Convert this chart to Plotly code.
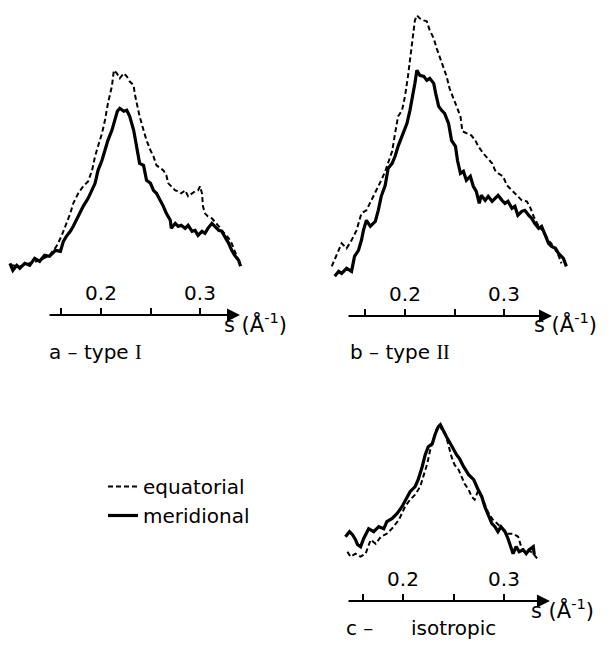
import plotly.graph_objects as go

W, H = 611, 645

# ---------------- data (s in 1/Angstrom, intensity in arbitrary units) ----------------
# panel a - type I
a_eq_s = [0.110, 0.118, 0.128, 0.138, 0.148, 0.155, 0.160, 0.165, 0.169, 0.172, 0.177, 0.182,
          0.187, 0.191, 0.194, 0.197, 0.201, 0.204, 0.207, 0.211, 0.213, 0.216, 0.219, 0.223,
          0.226, 0.229, 0.233, 0.234, 0.236, 0.239, 0.243, 0.246, 0.250, 0.253, 0.256, 0.260,
          0.263, 0.266, 0.268, 0.271, 0.275, 0.278, 0.281, 0.285, 0.288, 0.292, 0.295, 0.298,
          0.300, 0.302, 0.303, 0.305, 0.308, 0.312, 0.315, 0.319, 0.322, 0.325, 0.329, 0.332,
          0.335, 0.338]
a_eq_i = [18, 17, 20, 23, 28, 37, 47, 60, 70, 80, 90, 97,
          102, 113, 127, 137, 150, 163, 180, 197, 213, 210, 205, 210,
          207, 202, 198, 190, 180, 167, 153, 143, 133, 127, 118, 115,
          113, 108, 100, 97, 93, 92, 90, 93, 87, 90, 92, 93,
          97, 90, 77, 70, 67, 65, 62, 57, 53, 50, 45, 40,
          33, 25]
a_mer_s = [0.108, 0.111, 0.115, 0.118, 0.123, 0.128, 0.133, 0.138, 0.143, 0.148, 0.154, 0.159,
           0.162, 0.165, 0.169, 0.172, 0.177, 0.182, 0.187, 0.191, 0.194, 0.197, 0.201, 0.204,
           0.207, 0.211, 0.214, 0.2165, 0.219, 0.223, 0.226, 0.229, 0.233, 0.236, 0.239, 0.243,
           0.246, 0.250, 0.253, 0.256, 0.260, 0.263, 0.266, 0.270, 0.271, 0.275, 0.278, 0.281,
           0.285, 0.288, 0.292, 0.295, 0.298, 0.302, 0.305, 0.308, 0.312, 0.315, 0.319, 0.322,
           0.325, 0.329, 0.332, 0.335, 0.339, 0.341]
a_mer_i = [20, 13, 18, 15, 20, 18, 25, 22, 28, 27, 33, 32,
           42, 47, 52, 57, 67, 77, 85, 93, 100, 113, 123, 133,
           143, 153, 163, 172, 175, 172, 173, 167, 153, 137, 120, 118,
           103, 100, 93, 90, 83, 77, 70, 63, 55, 60, 57, 58,
           55, 58, 52, 53, 48, 52, 50, 55, 60, 57, 53, 52,
           47, 40, 33, 28, 23, 17]

# panel b - type II
b_eq_s = [0.126, 0.136, 0.141, 0.146, 0.151, 0.156, 0.161, 0.166, 0.171, 0.176, 0.180, 0.183,
          0.187, 0.190, 0.193, 0.197, 0.200, 0.203, 0.207, 0.210, 0.212, 0.215, 0.219, 0.222,
          0.225, 0.229, 0.232, 0.235, 0.239, 0.242, 0.245, 0.249, 0.252, 0.256, 0.258, 0.262,
          0.267, 0.271, 0.274, 0.279, 0.284, 0.288, 0.291, 0.294, 0.299, 0.303, 0.308, 0.313,
          0.318, 0.323, 0.326, 0.330, 0.335, 0.340, 0.345, 0.350, 0.355, 0.358]
b_eq_i = [17, 40, 35, 43, 53, 70, 73, 83, 92, 103, 112, 120,
          132, 150, 167, 173, 187, 207, 237, 263, 268, 265, 263, 262,
          253, 245, 235, 227, 217, 207, 195, 185, 177, 167, 152, 150,
          148, 143, 137, 130, 125, 120, 113, 110, 107, 98, 93, 88,
          83, 82, 77, 67, 57, 52, 43, 37, 28, 20]
b_mer_s = [0.129, 0.133, 0.136, 0.141, 0.146, 0.149, 0.153, 0.156, 0.158, 0.161, 0.165, 0.170,
           0.173, 0.176, 0.180, 0.183, 0.187, 0.190, 0.193, 0.197, 0.200, 0.202, 0.205, 0.208,
           0.210, 0.212, 0.215, 0.219, 0.222, 0.225, 0.229, 0.231, 0.234, 0.237, 0.240, 0.244,
           0.247, 0.251, 0.253, 0.256, 0.259, 0.262, 0.266, 0.269, 0.272, 0.275, 0.277, 0.281,
           0.284, 0.288, 0.291, 0.294, 0.298, 0.301, 0.304, 0.308, 0.311, 0.314, 0.318, 0.321,
           0.325, 0.328, 0.331, 0.335, 0.338, 0.341, 0.345, 0.348, 0.352, 0.355, 0.360, 0.363]
b_mer_i = [7, 12, 10, 15, 12, 27, 33, 43, 53, 63, 57, 62,
           73, 87, 98, 115, 120, 127, 137, 147, 153, 160, 173, 187,
           200, 213, 208, 207, 203, 205, 200, 190, 177, 173, 170, 160,
           143, 137, 123, 110, 112, 103, 107, 97, 92, 80, 88, 83,
           87, 82, 85, 88, 83, 80, 82, 75, 77, 68, 72, 73,
           68, 65, 60, 55, 57, 50, 40, 37, 35, 30, 25, 17]

# panel c - isotropic
c_eq_s = [0.145, 0.148, 0.153, 0.158, 0.163, 0.168, 0.173, 0.178, 0.184, 0.189, 0.196, 0.202,
          0.207, 0.212, 0.217, 0.220, 0.224, 0.227, 0.230, 0.233, 0.236, 0.238, 0.242, 0.245,
          0.248, 0.251, 0.255, 0.258, 0.261, 0.265, 0.268, 0.271, 0.274, 0.278, 0.281, 0.284,
          0.289, 0.294, 0.299, 0.304, 0.309, 0.314, 0.317, 0.320, 0.324, 0.329, 0.333]
c_eq_i = [15, 10, 13, 10, 13, 27, 23, 30, 33, 38, 47, 60,
          67, 72, 80, 90, 103, 117, 128, 137, 142, 138, 133, 120,
          110, 102, 97, 90, 83, 77, 70, 67, 75, 70, 63, 55,
          47, 42, 37, 33, 33, 30, 20, 15, 17, 13, 8]
c_mer_s = [0.143, 0.147, 0.150, 0.153, 0.155, 0.158, 0.161, 0.166, 0.171, 0.176, 0.181, 0.184,
           0.189, 0.194, 0.199, 0.204, 0.207, 0.212, 0.215, 0.219, 0.222, 0.225, 0.229, 0.232,
           0.235, 0.237, 0.240, 0.243, 0.247, 0.250, 0.253, 0.256, 0.260, 0.265, 0.270, 0.274,
           0.278, 0.281, 0.284, 0.288, 0.291, 0.294, 0.297, 0.301, 0.304, 0.307, 0.309, 0.312,
           0.315, 0.319, 0.322, 0.325, 0.329, 0.330]
c_mer_i = [30, 35, 32, 27, 22, 20, 28, 38, 35, 40, 38, 45,
           48, 53, 60, 70, 75, 80, 87, 100, 112, 120, 123, 133,
           140, 142, 135, 130, 123, 117, 112, 108, 100, 92, 87, 78,
           70, 60, 52, 43, 40, 35, 40, 35, 28, 20, 13, 20,
           15, 17, 13, 17, 20, 12]

tick_vals = [0.16, 0.2, 0.25, 0.3]
tick_text = ["", "0.2", "", "0.3"]
unit_label = "s (Å<sup>-1</sup>)"
panel_labels = ["a – type <span style=\"font-family:Liberation Serif\">I</span>",
                "b – type <span style=\"font-family:Liberation Serif\">II</span>",
                "c –"]
legend_names = ["equatorial", "meridional"]

# ---------------- layout helpers (pixel geometry) ----------------
FONT = "DejaVu Sans"
FS = 20


def xdom(x0, x1):
    return [x0 / W, x1 / W]


def ydom(top, bottom):
    return [1 - bottom / H, 1 - top / H]


def ypap(y):
    return 1 - y / H


panels = [
    dict(xr=[0.10, 0.35], xpx=(2, 249.5), yr=[0, 283], ypx=(0.33, 283.33), axis_y=315,
         arrow=(0.1465, 0.3404), unit=(222, 323), label=(47, 352),
         data=(a_eq_s, a_eq_i, a_mer_s, a_mer_i)),
    dict(xr=[0.12, 0.37], xpx=(325.8, 573.3), yr=[0, 283], ypx=(0.33, 283.33), axis_y=316,
         arrow=(0.1414, 0.3485), unit=(532, 323), label=(348, 352),
         data=(b_eq_s, b_eq_i, b_mer_s, b_mer_i)),
    dict(xr=[0.13, 0.35], xpx=(332.3, 554.5), yr=[0, 150], ypx=(416.7, 566.7), axis_y=601,
         arrow=(0.1446, 0.3455), unit=(529, 609), label=(344, 628),
         data=(c_eq_s, c_eq_i, c_mer_s, c_mer_i)),
]

fig = go.Figure()
annotations = []
layout = {}

for k, p in enumerate(panels):
    n = "" if k == 0 else str(k + 1)
    xa, ya = "x" + n, "y" + n
    eq_s, eq_i, mer_s, mer_i = p["data"]
    fig.add_trace(go.Scatter(x=eq_s, y=eq_i, xaxis=xa, yaxis=ya, mode="lines",
                             name=legend_names[0], showlegend=(k == 0),
                             line=dict(color="black", width=2, dash="5px,3px")))
    fig.add_trace(go.Scatter(x=mer_s, y=mer_i, xaxis=xa, yaxis=ya, mode="lines",
                             name=legend_names[1], showlegend=(k == 0),
                             line=dict(color="black", width=3.2)))
    layout["xaxis" + n] = dict(
        domain=xdom(*p["xpx"]), range=p["xr"], anchor="free", position=ypap(p["axis_y"]),
        side="top", showline=False, showgrid=False, zeroline=False,
        tickmode="array", tickvals=tick_vals, ticktext=tick_text,
        ticks="outside", ticklen=7, tickwidth=2, tickcolor="black",
        tickfont=dict(family=FONT, size=FS, color="black"), fixedrange=True)
    layout["yaxis" + n] = dict(domain=ydom(*p["ypx"]), range=p["yr"], visible=False,
                               anchor=xa, fixedrange=True)
    # axis line with arrow head
    annotations.append(dict(xref=xa, yref="paper", x=p["arrow"][1], y=ypap(p["axis_y"]),
                            axref=xa, ayref="pixel", ax=p["arrow"][0], ay=0,
                            showarrow=True, arrowhead=2, arrowsize=1.3, arrowwidth=2,
                            arrowcolor="black", text=""))
    annotations.append(dict(xref="paper", yref="paper", x=p["unit"][0] / W, y=ypap(p["unit"][1]),
                            xanchor="left", yanchor="middle", showarrow=False, text=unit_label,
                            font=dict(family=FONT, size=21, color="black")))
    annotations.append(dict(xref="paper", yref="paper", x=p["label"][0] / W, y=ypap(p["label"][1]),
                            xanchor="left", yanchor="middle", showarrow=False, text=panel_labels[k],
                            font=dict(family=FONT, size=FS, color="black")))

annotations.append(dict(xref="paper", yref="paper", x=409 / W, y=ypap(628),
                        xanchor="left", yanchor="middle", showarrow=False, text="isotropic",
                        font=dict(family=FONT, size=FS, color="black")))

fig.update_layout(
    width=W, height=H, margin=dict(l=0, r=0, t=0, b=0),
    paper_bgcolor="white", plot_bgcolor="white",
    font=dict(family=FONT, size=FS, color="black"),
    annotations=annotations,
    legend=dict(x=103 / W, y=ypap(467), xanchor="left", yanchor="top",
                font=dict(family=FONT, size=FS, color="black"),
                bgcolor="rgba(0,0,0,0)", itemwidth=30, tracegroupgap=0),
    **layout,
)

fig.write_html("out.html", config={"displayModeBar": False},
               post_script="document.body.style.margin='0px';document.body.style.overflow='hidden';")
